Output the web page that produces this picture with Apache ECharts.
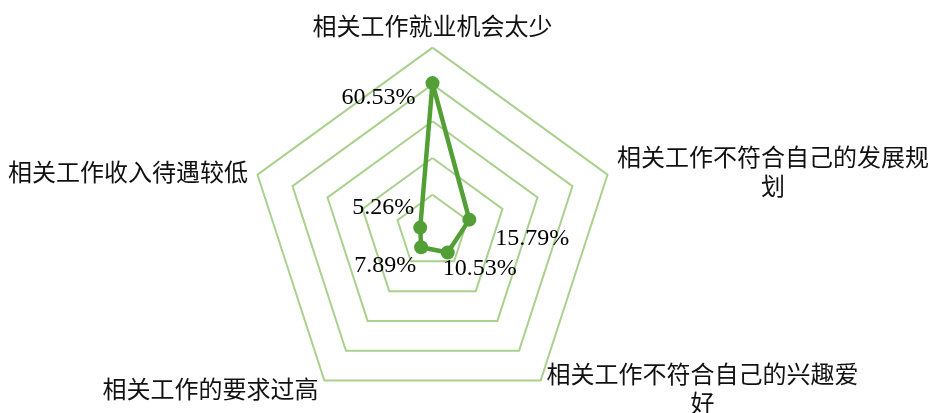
<!DOCTYPE html>
<html>
<head>
<meta charset="utf-8">
<title>radar</title>
<script src="https://cdn.jsdelivr.net/npm/echarts@6/dist/echarts.min.js"></script>
<style>
html,body{margin:0;padding:0;background:#fff;}
#main{width:929px;height:413px;}
</style>
</head>
<body>
<div id="main"></div>
<script>
// indicator order for echarts (counterclockwise from top)
var names = ['相关工作就业机会太少', '相关工作收入待遇较低', '相关工作的要求过高', '相关工作不符合自己的兴趣爱好', '相关工作不符合自己的发展规划'];
var values = [60.53, 5.26, 7.89, 10.53, 15.79];
var axisMax = 75;
// label offset (px) for each point's percentage text
var labelOffsets = [[-54, 15], [-37, -20], [-36, 18], [32, 16], [63, 19]];

var myChart = echarts.init(document.getElementById('main'));

var seriesData = [{
    value: values,
    name: '比例',
    symbol: 'circle',
    symbolSize: 14,
    lineStyle: {color: '#52a035', width: 4.5},
    itemStyle: {color: '#52a035'},
    label: {show: false}
}];
// one invisible item per point just to carry its label
for (var i = 0; i < values.length; i++) {
    var v = [];
    for (var j = 0; j < values.length; j++) v.push(j === i ? values[j] : 0);
    seriesData.push({
        value: v,
        symbol: 'circle',
        symbolSize: 1,
        lineStyle: {opacity: 0, width: 0},
        itemStyle: {color: 'rgba(0,0,0,0)'},
        label: {
            show: true,
            position: 'inside',
            offset: labelOffsets[i],
            color: '#000',
            opacity: 1,
            fontFamily: '"Liberation Serif", "Times New Roman", serif',
            fontSize: 24,
            formatter: function (p) {
                return p.value ? Number(p.value).toFixed(2) + '%' : '';
            }
        }
    });
}

var option = {
    animation: false,
    radar: {
        center: [432.5, 231.6],
        radius: 184,
        startAngle: 90,
        shape: 'polygon',
        splitNumber: 5,
        nameGap: 10,
        indicator: names.map(function (n) { return {name: n, max: axisMax, min: 0}; }),
        axisName: {
            color: '#111',
            fontFamily: '"Noto Sans CJK SC", sans-serif',
            fontSize: 24,
            formatter: function (n) {
                if (n.length > 12) {
                    return '{a|' + n.slice(0, 13) + '}\n{a|' + n.slice(13) + '}';
                }
                return n;
            },
            rich: {
                a: {
                    width: 312,
                    align: 'center',
                    color: '#111',
                    fontFamily: '"Noto Sans CJK SC", sans-serif',
                    fontSize: 24,
                    lineHeight: 29
                }
            }
        },
        axisLine: {show: false},
        axisTick: {show: false},
        axisLabel: {show: false},
        splitArea: {show: false},
        splitLine: {lineStyle: {color: '#a9d18e', width: 2}}
    },
    series: [{
        type: 'radar',
        data: seriesData
    }]
};
myChart.setOption(option, true);
</script>
</body>
</html>
